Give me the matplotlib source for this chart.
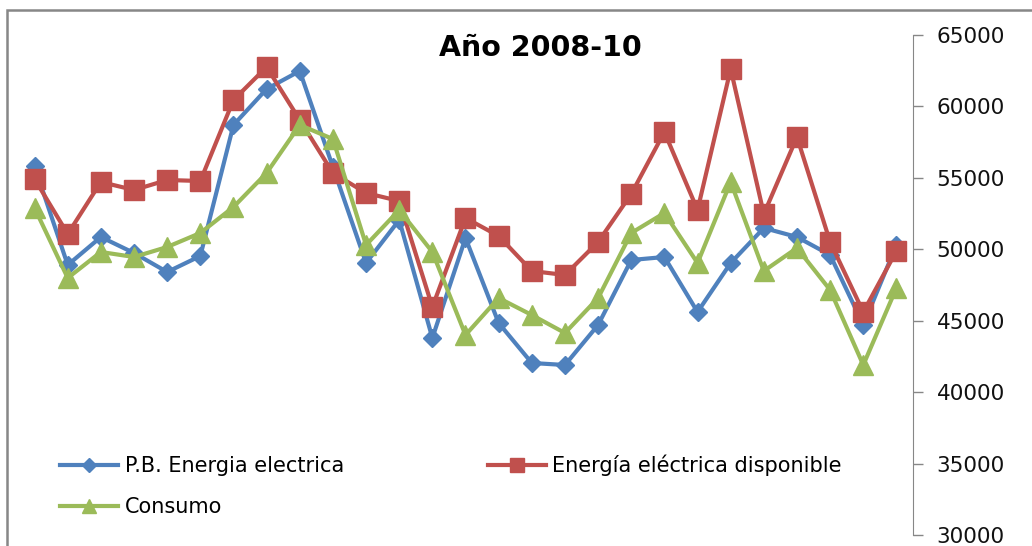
import matplotlib
matplotlib.use('Agg')
import matplotlib.pyplot as plt
from matplotlib.patches import Rectangle

plt.rcParams['font.family'] = ['DejaVu Sans']

# 27 puntos (periodo 2008-10)
periodos = list(range(27))

pb_energia = [55800, 48900, 50860, 49740, 48410, 49530, 58700, 61220, 62480,
              55760, 49040, 52050, 43790, 50790, 44840, 42040, 41900, 44700,
              49250, 49460, 45610, 49040, 51490, 50860, 49600, 44700, 50300]
energia_disp = [54920, 51070, 54710, 54150, 54850, 54780, 60450, 62760, 59050,
                55340, 53940, 53380, 45960, 52190, 50930, 48480, 48200, 50510,
                53870, 58210, 52750, 62620, 52470, 57860, 50510, 45610, 49880]
consumo = [52890, 47990, 49810, 49460, 50160, 51140, 52960, 55340, 58700,
           57720, 50300, 52750, 49810, 44000, 46590, 45400, 44140, 46590,
           51140, 52540, 49040, 54710, 48480, 50090, 47150, 41900, 47290]

etiquetas = ['P.B. Energia electrica', 'Energía eléctrica disponible', 'Consumo']
yticks = [30000, 35000, 40000, 45000, 50000, 55000, 60000, 65000]

W, H = 1032, 546
fig = plt.figure(figsize=(W / 100, H / 100), dpi=100)

# borde del area del grafico (solo se ve arriba y a la izquierda)
fig.add_artist(Rectangle((7 / W, -0.2), 1.5, 1.2 - 10 / H, transform=fig.transFigure,
                         fill=False, edgecolor='#878787', linewidth=1.8))

ax = fig.add_axes([18 / W, 1 - 535 / H, (913 - 18) / W, (535 - 35) / H])

l1, = ax.plot(periodos, pb_energia, color='#4F81BD', lw=3, marker='D', ms=9,
              label=etiquetas[0])
l2, = ax.plot(periodos, energia_disp, color='#C0504D', lw=3, marker='s', ms=14,
              label=etiquetas[1])
l3, = ax.plot(periodos, consumo, color='#9BBB59', lw=3, marker='^', ms=14,
              label=etiquetas[2])

ax.set_xlim(-0.5, 26.5)
ax.set_ylim(30000, 65000)
ax.set_yticks(yticks)
ax.set_xticks([])
ax.yaxis.tick_right()
ax.tick_params(axis='y', direction='out', length=7, width=1, color='#878787',
               labelsize=15.5, pad=10, labelcolor='#111111')
for s in ['left', 'top', 'bottom']:
    ax.spines[s].set_visible(False)
ax.spines['right'].set_color('#878787')
ax.patch.set_alpha(0)

fig.text(540 / W, 1 - 56 / H, 'Año 2008-10', ha='center', va='baseline',
         fontsize=20.5, fontweight='bold')

leg = ax.legend([l1, l3, l2], [etiquetas[0], etiquetas[2], etiquetas[1]],
                ncol=2, loc='upper left', bbox_to_anchor=(60 / W, 1 - 455 / H),
                bbox_transform=fig.transFigure, frameon=False, fontsize=15,
                handlelength=2.8, handletextpad=0.3, columnspacing=6.9,
                labelspacing=1.0, markerscale=0.75, borderpad=0, borderaxespad=0)

fig.savefig('out.png', dpi=100)
